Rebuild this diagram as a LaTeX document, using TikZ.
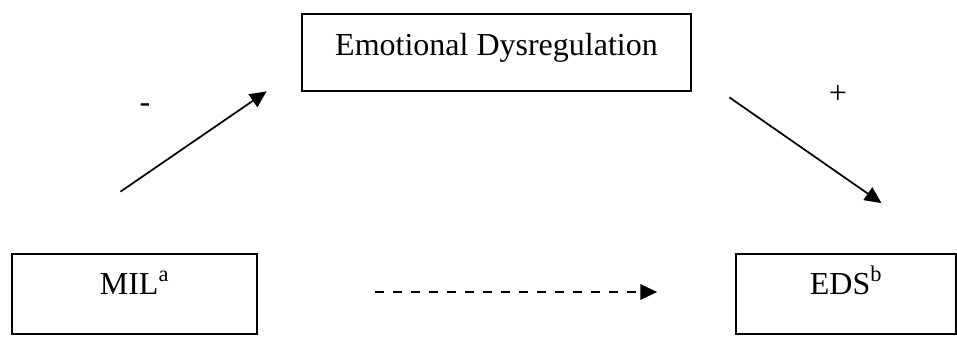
\documentclass[tikz,border=0pt]{standalone}
\usepackage{fontspec}
\setmainfont{Liberation Serif}
\usetikzlibrary{arrows.meta,calc}

\begin{document}
\begin{tikzpicture}[x=0.75pt,y=-0.75pt,font=\fontsize{24}{28}\selectfont,
      box/.style={draw,line width=1.3pt,inner sep=0pt,text height=30pt,text depth=30pt},
      fl/.style={-{Triangle[length=12.5pt,width=11.5pt]},line width=1.3pt},
      dfl/.style={fl,dash pattern=on 7pt off 6.5pt},
      sgn/.style={anchor=base,inner sep=0pt}]
    \useasboundingbox (0,0) rectangle (957,339);
    \node[box,minimum width=291.75pt,text height=30.75pt,text depth=27pt] (emo) at (496.5,52.5) {Emotional Dysregulation};
    \node[box,minimum width=183.75pt] (mil) at (134.5,294) {MIL\textsuperscript{a}};
    \node[box,minimum width=165pt] (eds) at (846,294) {EDS\textsuperscript{b}};
    % loose arrow ends
    \coordinate (milup) at ($(mil.north)+(-14,-61.5)$);
    \coordinate (emoin) at ($(emo.south west)+(-34.5,-0.5)$);
    \coordinate (emoout) at ($(emo.south east)+(37.5,5.5)$);
    \coordinate (edsin) at ($(eds.north)+(35.5,-50)$);
    \coordinate (direct) at ($(mil.east)+(117,-2)$);
    \coordinate (directend) at ($(eds.west)+(-78,-2)$);
    \draw[fl] (milup)--(emoin);
    \draw[fl] (emoout)--(edsin);
    \draw[dfl] (direct)--(directend);
    \node[sgn] (neg) at (145,112) {-};
    \node[sgn] (pos) at (838,103) {+};
  \end{tikzpicture}
\end{document}
